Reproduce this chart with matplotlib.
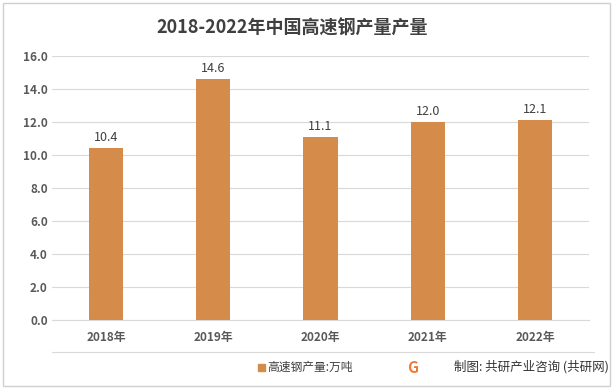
import matplotlib.pyplot as plt
from matplotlib.patches import Rectangle
from matplotlib.lines import Line2D

plt.rcParams['font.family'] = ['Noto Sans CJK SC', 'DejaVu Sans']

years = ["2018年", "2019年", "2020年", "2021年", "2022年"]
output = [10.4, 14.6, 11.1, 12.0, 12.1]
series_name = "高速钢产量:万吨"

bar_color = "#D58B4A"

fig = plt.figure(figsize=(6.14, 3.89), dpi=100)
ax = fig.add_axes([0.0855, 0.1774, 0.873, 0.6786])

x = list(range(len(years)))
ax.bar(x, output, width=0.32, color=bar_color, zorder=3)
for xi, v in zip(x, output):
    ax.text(xi, v + 0.25, f"{v:.1f}", ha="center", va="bottom",
            fontsize=9, color="#404040")

ax.set_xlim(-0.5, len(years) - 0.5)
ax.set_ylim(0, 16)
ax.set_yticks([0, 2, 4, 6, 8, 10, 12, 14, 16])
ax.set_yticklabels([f"{t:.1f}" for t in ax.get_yticks()])
ax.set_xticks(x)
ax.set_xticklabels(years)
ax.tick_params(axis="both", length=0, labelsize=8.5, colors="#595959")
ax.tick_params(axis="x", pad=8)
for lab in ax.get_xticklabels() + ax.get_yticklabels():
    lab.set_fontweight("bold")
ax.grid(axis="y", color="#D9D9D9", linewidth=0.8, zorder=0)
for s in ["top", "right", "left"]:
    ax.spines[s].set_visible(False)
ax.spines["bottom"].set_color("#D9D9D9")

fig.text(0.475, 0.928, "2018-2022年中国高速钢产量产量", ha="center", va="center",
         fontsize=13, fontweight="bold", color="#404040")

# separator line under x labels
fig.add_artist(Line2D([0.085, 0.968], [0.095, 0.095], color="#D9D9D9", linewidth=0.8))

# legend
fig.add_artist(Rectangle((0.421, 0.047), 0.011, 0.018, color=bar_color))
fig.text(0.436, 0.056, series_name, ha="left", va="center", fontsize=8.5, color="#404040")

# source
fig.text(0.672, 0.054, "G", ha="center", va="center", fontsize=11,
         fontweight="bold", color="#EE7A33")
fig.text(0.74, 0.056, "制图: 共研产业咨询 (共研网)", ha="left", va="center",
         fontsize=9, color="#333333")

# figure border
fig.add_artist(Rectangle((0.005, 0.008), 0.988, 0.984, fill=False,
                         edgecolor="#D0D0D0", linewidth=1, transform=fig.transFigure))

fig.savefig("out.png", dpi=100)
